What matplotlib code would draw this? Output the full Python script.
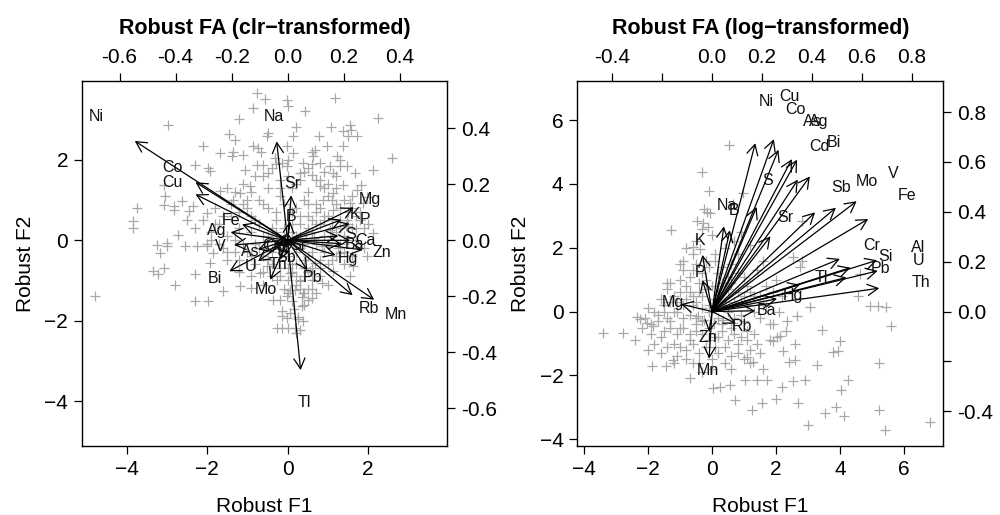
import matplotlib
matplotlib.use("Agg")
import matplotlib.pyplot as plt
from matplotlib.patches import FancyArrowPatch

plt.rcParams['font.family'] = ['Liberation Sans', 'DejaVu Sans']

# ---- left panel: clr-transformed ----
clr_names = ['Ni', 'Na', 'Co', 'Cu', 'Sr', 'Mg', 'K', 'P', 'B', 'Fe', 'Ag', 'V', 'S', 'Ca',
             'Ba', 'Zn', 'Hg', 'Cd', 'Cr', 'Al', 'Si', 'As', 'Sb', 'Th', 'U', 'Bi', 'Mo',
             'Pb', 'Rb', 'Mn', 'Tl']
clr_load1 = [-0.682, -0.049, -0.411, -0.411, 0.016, 0.294, 0.240, 0.276, 0.011, -0.203, -0.254,
             -0.239, 0.226, 0.279, 0.240, 0.336, 0.214, -0.045, -0.060, -0.030, 0.036, -0.132,
             -0.006, -0.034, -0.132, -0.260, -0.078, 0.088, 0.290, 0.386, 0.058]
clr_load2 = [0.443, 0.441, 0.259, 0.205, 0.201, 0.145, 0.092, 0.074, 0.084, 0.071, 0.036,
             -0.021, 0.020, 0.000, -0.015, -0.043, -0.066, -0.021, -0.018, -0.025, -0.019,
             -0.041, -0.063, -0.087, -0.093, -0.138, -0.176, -0.134, -0.245, -0.265, -0.579]

clr_f1 = [-0.77, -0.56, -0.02, 0.02, 1.18, -0.87, -1.20, 0.43, 2.26, -2.97, 0.22, -0.48, -0.52,
          1.09, 1.55, 1.59, 1.38, 1.73, 1.51, 0.14, 0.79, -1.45, -1.31, -2.10, -0.73, -0.02,
          0.68, 0.97, 1.38, 1.22, 0.60, 0.64, -1.68, -1.35, -1.39, -1.10, 2.59, 2.13, -1.97,
          -1.93, -2.31, -0.77, -0.61, -1.06, -0.48, 1.05, 1.30, 1.47, 1.67, 1.84, -3.05, -3.08,
          -2.84, -2.84, -3.76, -3.84, -3.84, -3.09, -2.35, -2.64, -2.45, -2.01, -1.35, -1.19,
          -0.94, -1.68, -3.26, -3.01, -3.01, -2.72, -2.55, -2.26, -2.01, -3.18, -3.34, -3.22,
          -3.09, -2.80, -2.31, -1.60, -1.19, -0.90, -1.93, -1.85, -4.79, -2.31, -1.97, -0.36,
          -0.19, -0.15, 0.06, -0.27, -0.15, 0.02, 0.18, 0.22, 0.31, 0.39, -0.15, -0.02, 0.27,
          0.60, 0.85, 1.01, 1.14, 1.63, 0.18, 0.06, 0.31, 0.39, 0.51, 0.72, 0.35, -0.02, -0.27,
          0.06, 0.56, 0.68, -0.69, -0.52, 1.55, 1.30, 1.97, 2.13, 1.88, 1.97, 1.47, 1.14, 0.89,
          1.14, 1.38, 1.72, 0.80, 0.60, 0.31, -0.02, -0.15, -0.31, -0.65, -0.85, 0.14, 0.39,
          0.80, 1.14, 1.55,
          -1.0, -0.8, -0.6, -0.4, -0.3, -0.2, 0.0, 0.1, 0.2, 0.3, 0.4, 0.5, 0.6, 0.7, 0.8, 0.9,
          1.0, 1.1, 1.2, 1.3, 1.4, 1.5, 1.6, 1.7, 1.8, -1.2, -1.4, -1.5, -1.7, -1.9, -2.1, -1.6,
          -1.3, -1.1, -0.9, -0.7, -0.5, -0.3, -0.1, 0.1, 0.3, 0.5, 0.7, 0.9, 1.1, 1.3, 0.2, 0.4,
          0.0, 0.6, -0.2, 0.3, 0.5, 0.1, 0.4, -0.1, -0.5, -0.2, 0.1, 0.3, 0.5, 0.7, 0.9, 1.1,
          -0.8, -1.1, -1.3, -0.6, -0.4, 0.8, 1.0, 1.2, 1.4, 0.0, 0.2, -0.1, 0.4, 0.6, 0.8, 1.0,
          1.2, 1.4, 1.6, -0.3, 0.0, 0.5, 0.9, 1.3, -1.0, -1.8, -2.0, -2.3, -2.5, -1.5, -1.2,
          -0.9, -0.6,
          -0.9, -0.7, -0.5, -0.3, -0.1, 0.1, 0.3, 0.5, 0.7, 0.9, 1.1, 1.3, 1.5, 1.7, 1.9,
          -0.9, -0.7, -0.5, -0.3, -0.1, 0.1, 0.3, 0.5, 0.7, 0.9, 1.1, 1.3, 1.5, 1.7,
          -0.8, -0.6, -0.4, -0.2, 0.0, 0.2, 0.4, 0.6, 0.8, 1.0, 1.2, 1.4, 1.6,
          -0.4, -0.2, 0.0, 0.2, 0.4, 0.6, 0.8, 0.1, 0.3, 0.5, 0.2, 0.4, 0.6, 0.0, 0.15, 0.35,
          0.25, -0.6, -0.4, -0.2, 0.0, 0.2, 0.4, 0.6, 0.8, 1.0, 1.2, -1.2, -1.4, -1.6, -1.8,
          -1.3, -1.5, -1.7, -1.9, -1.0, -1.2, -0.8, -0.6, -0.9, -1.1, -1.5, 0.45, 0.65, 0.85,
          1.05, 1.25, 1.45, 1.6, 1.8, 2.0, 1.9]
clr_f2 = [3.68, 3.52, 3.50, 3.35, 3.54, 3.29, 3.02, 3.21, 3.04, 2.88, 2.82, 2.67, 2.59, 2.81,
          2.88, 2.75, 2.71, 2.60, 2.60, 2.59, 2.59, 2.65, 2.50, 2.34, 2.30, 2.34, 2.24, 2.34,
          2.34, 2.09, 2.21, 2.09, 2.17, 2.21, 2.09, 2.13, 2.05, 1.76, 1.80, 1.72, 1.88, 1.88,
          1.88, 1.76, 1.67, 1.84, 1.84, 1.84, 1.67, 1.38, 1.11, 1.38, 0.85, 0.76, 0.80, 0.47,
          0.31, 0.89, 0.85, 0.97, 0.72, 0.68, 1.01, 1.18, 1.34, 1.22, -0.11, -0.15, -0.07, 0.14,
          -0.15, -0.15, -0.15, -0.32, -0.77, -0.85, -0.69, -1.10, -0.85, -1.27, -1.14, -1.19,
          -0.56, -0.32, -1.39, -1.52, -1.52, -1.48, -1.48, -1.77, -1.81, -2.18, -2.18, -2.18,
          -2.18, -2.31, -2.22, -2.01, -1.89, -1.93, -1.97, -1.43, -1.06, -1.10, -0.77, -0.65,
          -1.23, -1.23, -1.02, -1.31, -1.48, -1.31, -1.64, -1.39, -0.98, -0.81, -0.77, -0.56,
          -0.81, -0.65, -0.90, -0.32, -0.40, 0.18, 0.93, 1.09, 0.51, 0.76, 1.01, 1.18, 1.38,
          1.26, 1.34, 1.63, 1.67, 1.84, 1.92, 2.05, 2.21, 2.34, 2.17, 1.92, 1.92, 1.67, 0.93,
          0.8, 0.5, 0.9, 0.3, 0.7, 1.1, 0.5, 0.2, 0.8, 0.4, 1.0, 0.6, 0.2, 0.9, 0.4, 0.1, 0.6,
          0.3, 0.9, 0.5, 0.1, 0.7, 0.3, 0.0, 0.5, 0.3, 0.6, 0.1, 0.4, 0.2, 0.5, -0.2, -0.3, -0.1,
          -0.4, -0.2, -0.5, -0.1, -0.3, -0.6, -0.2, -0.4, -0.1, -0.3, -0.5, -0.1, -0.9, -0.7,
          -1.0, -1.0, -0.7, -1.2, -1.2, -1.5, -1.6, -1.2, 1.3, 1.5, 1.3, 1.5, 1.2, 1.5, 1.3, 1.0,
          1.6, 1.4, 1.2, 0.1, -0.9, -0.7, -0.1, 0.2, -0.3, 0.0, 0.1, 0.3, -0.1, 0.5, 0.8, 1.1,
          1.3, 1.0, 1.1, 1.9, 2.0, 1.8, 1.7, 2.0, 1.0, 0.8, -0.1, 0.3, 0.5, -0.5, -0.8, -0.9,
          -1.1,
          1.2, 1.0, 0.8, 0.5, 0.9, 0.7, 0.6, 0.9, 0.7, 0.6, 0.5, 0.8, 0.4, 0.6, 0.3,
          0.2, 0.4, 0.1, 0.2, 0.1, 0.4, 0.1, 0.3, 0.4, 0.5, 0.1, 0.3, 0.0, 0.3,
          -0.1, -0.4, -0.3, -0.2, -0.4, -0.3, -0.5, -0.3, -0.5, -0.6, -0.4, -0.6, -0.4,
          -0.6, -0.9, -0.7, -0.6, -0.9, -0.7, -0.9, -0.8, -1.0, -0.8, -1.1, -1.3, -1.2, -1.3,
          -1.7, -1.4, -1.9, 1.6, 1.8, 1.3, 1.6, 1.4, 1.7, 1.9, 1.5, 1.4, 1.6, 0.7, 0.9, 0.6,
          0.4, 0.0, -0.3, -0.1, 0.0, -0.3, -0.5, -0.6, -0.8, 0.6, 0.9, 1.3, 0.15, 0.05, -0.15,
          0.25, -0.2, 0.35, 0.8, 0.7, 0.4, -0.2]

# ---- right panel: log-transformed ----
log_names = ['Ni', 'Cu', 'Co', 'As', 'Ag', 'Cd', 'Bi', 'S', 'Sb', 'Mo', 'V', 'Fe', 'Na', 'B',
             'Sr', 'K', 'Cr', 'Si', 'Al', 'U', 'Pb', 'Th', 'Tl', 'Hg', 'P', 'Mg', 'Ba', 'Rb',
             'Zn', 'Mn']
log_load1 = [0.216, 0.309, 0.332, 0.399, 0.425, 0.429, 0.489, 0.223, 0.515, 0.619, 0.723,
             0.781, 0.059, 0.089, 0.292, -0.048, 0.639, 0.692, 0.825, 0.828, 0.672, 0.836,
             0.439, 0.325, -0.048, -0.155, 0.216, 0.119, -0.015, -0.015]
log_load2 = [0.844, 0.864, 0.811, 0.764, 0.761, 0.661, 0.677, 0.524, 0.497, 0.520, 0.553,
             0.464, 0.427, 0.407, 0.377, 0.284, 0.264, 0.220, 0.257, 0.204, 0.171, 0.117,
             0.135, 0.064, 0.157, 0.037, 0.004, -0.060, -0.103, -0.236]

log_f1 = [0.53, -0.32, -0.08, -0.25, -0.17, -0.06, -0.48, -0.27, -0.14, -1.28, -0.58, -0.38,
          0.96, 0.67, 2.80, 2.54, 3.06, 2.75, 2.80, 4.57, 4.63, 4.94, 5.20, 5.43, 5.58, 3.43,
          4.00, 3.95, 3.79, 3.27, 4.26, 4.02, 5.22, 3.88, 4.13, 3.53, 5.22, 5.41, 3.01, 6.81,
          2.70, 2.00, 1.55, 1.24, 0.72, 0.04, 0.25, 0.56, -0.69, 1.03, 1.40, 1.71, 2.18, 2.54,
          2.91, -1.89, -1.44, -1.23, -3.42, -2.79, -2.33, -2.25, -2.04, -1.83, 2.42, 2.59, 2.23,
          2.02, 1.92, 2.13, 1.29, 1.60, 1.08, 2.65, 1.81, 2.33,
          -1.9, -1.7, -1.5, -1.3, -1.1, -0.9, -0.7, -0.5, -0.3, -0.1, 0.1, 0.3, 0.5, 0.7, 0.9,
          1.1, 1.3, 1.5, 1.7, -1.6, -1.2, -0.8, -0.4, 0.0, 0.4, 0.8, 1.2, -1.4, -1.0, -0.6,
          -0.2, 0.2, 0.6, 1.0, 1.4, -0.9, -0.5, 0.0, 0.4, 0.8, 1.2, -0.7, -0.3, 0.2, 0.6, 1.0,
          -1.0, -1.4, -1.8, -2.0, -0.2, 0.4, -0.6, -1.2, 0.8, 1.6, 1.9, 1.8, 1.5, -0.4, 0.3,
          -0.8, -1.1, -0.6, 0.6, -0.3, 0.1, 1.1, -0.1, 0.2, -0.5, -1.3, -0.8, 0.1, -0.3, 0.9,
          1.3, 2.2, 2.0, 1.6, 2.3, 2.6,
          -1.5, -1.3, -1.1, -0.9, -0.7, -0.5, -0.3, -0.1, 0.1, 0.3, 0.5, 0.7, 0.9, 1.1, 1.3,
          -1.5, -1.3, -1.1, -0.9, -0.7, -0.5, -0.3, -0.1, 0.1, 0.3, 0.5, 0.7, 0.9, 1.1,
          -1.2, -1.0, -0.8, -0.6, -0.4, -0.2, 0.0, 0.2, 0.4, 0.6, 0.8, 1.0, 1.2,
          -0.9, -0.7, -0.5, -0.3, -0.1, 0.1, 0.3, 0.5, 0.7, -1.7, -1.9, -2.1, -2.2, -1.8, -1.4,
          -1.0, -0.6, -0.2, 0.2, 0.6, 1.0, 1.4, -0.8, -0.4, 0.0, 0.4, 0.8, 1.2, -1.2, -1.6,
          -2.0, -2.4, -1.6, -1.4, -1.0, -0.6, 0.35, 0.65, -0.45, -0.25, 0.05, 1.5, 1.7, 1.9,
          2.1]
log_f2 = [5.22, 4.38, 3.78, 3.21, 3.13, 3.09, 2.84, 2.79, 2.66, 2.57, 2.03, 1.96, 3.73, 3.36,
          2.84, 1.70, 0.14, 1.39, 1.59, 0.50, 1.18, 0.19, 0.19, 0.14, -0.44, -0.57, -0.91,
          -1.22, -1.27, -1.66, -2.14, -2.45, -1.61, -2.99, -3.28, -3.18, -3.09, -3.72, -3.54,
          -3.46, -2.86, -2.73, -2.86, -3.07, -2.76, -2.40, -2.36, -2.31, -2.09, -2.14, -2.14,
          -2.14, -2.36, -2.16, -2.14, -1.69, -1.69, -1.51, -0.68, -0.68, -0.16, -0.23, -0.36,
          -0.44, -1.58, -1.53, -1.22, -0.80, -0.91, -0.75, -1.58, -1.79, -1.43, -0.13, -0.39,
          -0.28,
          -0.4, -0.1, 0.2, -0.5, 0.3, -0.2, 0.6, -0.6, 0.1, -0.9, 0.4, -0.4, 0.7, -0.2, 0.3,
          -0.6, 0.5, -0.2, 0.8, -0.8, -1.0, -1.2, -1.3, -1.5, -1.1, -1.0, -1.2, 0.7, 1.0, 1.3,
          1.6, 1.2, 1.5, 1.1, 1.3, 1.6, 2.2, 2.4, 2.0, 1.8, 2.1, -0.7, -0.3, -0.8, -0.5, -0.3,
          -0.5, -0.2, 0.0, 0.1, 0.7, 0.3, 0.2, 0.0, 0.6, 0.2, -0.4, -0.9, -1.3, 0.9, 0.9, 0.4,
          -1.4, -1.6, -1.8, -1.9, -1.1, 0.8, 0.2, -0.2, -0.2, 0.9, 2.0, 1.8, 2.6, 2.5, 0.0,
          0.5, 1.0, 1.6, -0.6, -1.0,
          -0.6, -0.3, -0.7, -0.5, -0.9, -0.4, -0.7, -0.5, -0.8, -0.6, -0.9, -0.7, -0.8, -0.9,
          -0.7,
          0.0, 0.3, 0.0, 0.2, -0.1, 0.3, 0.5, 0.0, 0.1, 0.2, 0.0, 0.3, -0.1, 0.2,
          0.5, 0.6, 0.8, 0.5, 0.6, 1.0, 0.8, 0.6, 0.8, 0.9, 1.2, 0.5, 0.6,
          1.3, 1.1, 1.5, 1.2, 1.4, 1.6, 1.4, 1.1, 2.2, -0.3, -0.7, -0.2, -0.5, -1.0, -1.1,
          -1.1, -1.0, -1.1, -1.3, -1.4, -1.5, -1.0, -1.5, -1.6, -1.8, -1.6, -1.3, -1.6, -1.6,
          -1.3, -1.2, -0.9, 0.4, 0.9, 1.5, 1.8, -0.25, -0.35, -0.15, -0.25, -0.35, 0.5, 0.2,
          0.6, 0.0]

fig = plt.figure(figsize=(10, 5.15), dpi=100)


def biplot(rect, f1, f2, names, l1, l2, lim, llim, ticks, lticks, lticklabels, title):
    ax = fig.add_axes(rect)
    ax.plot(f1, f2, linestyle='none', marker='+', color='#a8a8a8', markersize=7,
            markeredgewidth=0.9)
    ax.set_xlim(lim)
    ax.set_ylim(lim)
    ax.set_xticks(ticks)
    ax.set_yticks(ticks)
    ax.tick_params(direction='out', length=6, width=0.9, labelsize=15, pad=4)
    ax.set_xlabel('Robust F1', fontsize=15, labelpad=13)
    ax.set_ylabel('Robust F2', fontsize=15, labelpad=7)
    for s in ax.spines.values():
        s.set_linewidth(1.0)

    # loadings drawn on their own axes, ticks on top and right
    ax2 = fig.add_axes(rect)
    ax2.patch.set_visible(False)
    for s in ax2.spines.values():
        s.set_visible(False)
    ax2.set_xlim(llim)
    ax2.set_ylim(llim)
    ax2.xaxis.tick_top()
    ax2.yaxis.tick_right()
    ax2.set_xticks(lticks)
    ax2.set_xticklabels(lticklabels)
    ax2.set_yticks(lticks)
    ax2.set_yticklabels(lticklabels)
    ax2.tick_params(direction='out', length=6, width=0.9, labelsize=15, pad=4)
    ax2.set_title(title, fontsize=15.5, fontweight='bold', pad=34)

    for nm, x, y in zip(names, l1, l2):
        arr = FancyArrowPatch((0, 0), (0.8 * x, 0.8 * y),
                              arrowstyle='->,head_length=0.75,head_width=0.4',
                              mutation_scale=10, color='black', linewidth=0.9,
                              shrinkA=0, shrinkB=0)
        ax2.add_patch(arr)
        ax2.text(x, y, nm, fontsize=11.5, ha='center', va='center', color='#111111')
    return ax, ax2


def fmt(v):
    return '%.1f' % v


clr_lt = [-0.6, -0.4, -0.2, 0.0, 0.2, 0.4]
biplot([0.082, 0.134, 0.365, 0.709], clr_f1, clr_f2, clr_names, clr_load1, clr_load2,
       (-5.12, 3.97), (-0.734, 0.569), [-4, -2, 0, 2], clr_lt,
       [fmt(v) for v in clr_lt], 'Robust FA (clr\u2212transformed)')

log_lt = [-0.4, -0.2, 0.0, 0.2, 0.4, 0.6, 0.8]
log_ll = [fmt(v) if v != -0.2 else '' for v in log_lt]
biplot([0.5773, 0.134, 0.366, 0.709], log_f1, log_f2, log_names, log_load1, log_load2,
       (-4.21, 7.23), (-0.539, 0.925), [-4, -2, 0, 2, 4, 6], log_lt, log_ll,
       'Robust FA (log\u2212transformed)')

fig.savefig('out.png', dpi=100)
